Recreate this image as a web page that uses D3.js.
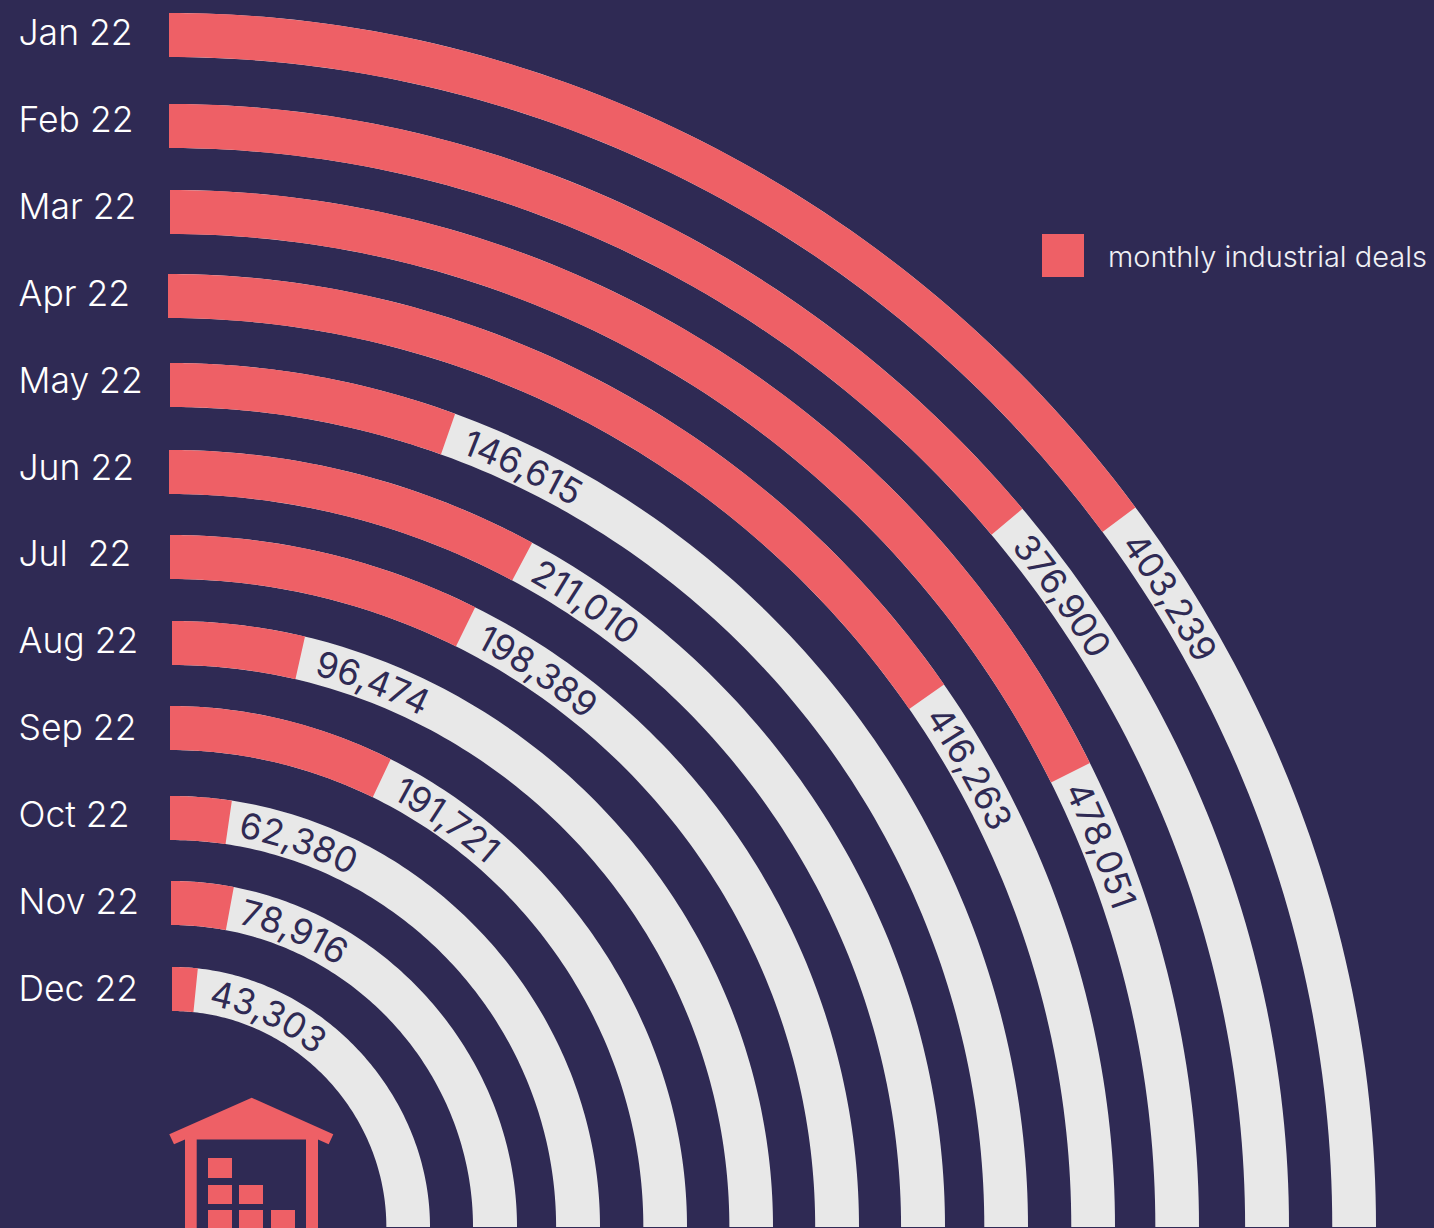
<!DOCTYPE html>
<html>
<head>
<meta charset="utf-8">
<script src="https://cdn.jsdelivr.net/npm/d3@7"></script>
<style>
  html, body { margin: 0; padding: 0; background: #2f2a54; overflow: hidden; }
  svg { display: block; }
  text { font-family: Inter, "Noto Sans", sans-serif; }
  .month { fill: #ffffff; font-size: 35.5px; font-weight: 300; white-space: pre; }
  .value { fill: #2f2a54; font-size: 35.5px; font-weight: 400; }
  .legend-label { fill: #f0f0f4; font-size: 29px; font-weight: 300; }
</style>
</head>
<body>
<script>
// Monthly industrial deals, one concentric ring per month
const months = ["Jan 22", "Feb 22", "Mar 22", "Apr 22", "May 22", "Jun 22",
                "Jul  22", "Aug 22", "Sep 22", "Oct 22", "Nov 22", "Dec 22"];
const deals = [403239, 376900, 478051, 416263, 146615, 211010,
               198389, 96474, 191721, 62380, 78916, 43303];
const legendLabel = "monthly industrial deals";

// Hand-set ring placement: the rings are not evenly spaced or perfectly round
const ringLefts    = [169, 169, 170, 168, 170, 169, 170, 172, 170, 170, 171, 172];
const ringTops     = [13, 104, 190, 274, 363, 450, 535, 621, 706, 796, 881, 967];
const ringRights   = [1376, 1289, 1199, 1115, 1028, 945, 859, 773, 687, 600, 517, 430];
const ringFlatness = [5, 6, 0.5, 2.4, 4, 3, 1, 3, 5, 2, 2, 2];
const labelGaps    = [19, 20, 12, 15, 18, 14, 17, 17, 17, 11, 11, 14];

const width = 1434, height = 1228;
const baseY = 1227, bandWidth = 44;
const colors = { bg: "#2f2a54", bar: "#ee6066", track: "#e8e8e8" };

const svg = d3.select("body").append("svg")
  .attr("width", width).attr("height", height)
  .style("background", colors.bg);

// A full quarter turn stands for 678,500 deals
const angle = d3.scaleLinear().domain([0, 678500]).range([0, Math.PI / 2]);
const left = d3.scaleOrdinal(months, ringLefts);
const top_ = d3.scaleOrdinal(months, ringTops);
const right = d3.scaleOrdinal(months, ringRights);
const flatness = d3.scaleOrdinal(months, ringFlatness);
const labelGap = d3.scaleOrdinal(months, labelGaps);
const labelY = d3.scalePoint(months, [32, 988]);

const rows = months.map((m, i) => ({ month: m, value: deals[i], index: i }));
const outer = d => baseY - top_(d.month);

// Edges sag slightly toward the ring's centre around the diagonal
const sag = a => Math.sin(2 * a) ** 2;
const sweep = end => d3.range(0, 121).map(i => end * i / 120);

const bandPath = (d, end) => d3.areaRadial()
  .angle(a => a)
  .outerRadius(a => outer(d) - flatness(d.month) * sag(a))
  .innerRadius(a => outer(d) - bandWidth - 0.4 * flatness(d.month) * sag(a))(sweep(end));

const rings = svg.selectAll("g.ring").data(rows).join("g")
  .attr("class", "ring")
  .attr("transform", d =>
    `translate(${left(d.month)},${baseY}) scale(${(right(d.month) - left(d.month)) / outer(d)},1)`);

rings.append("path").attr("fill", colors.track).attr("d", d => bandPath(d, Math.PI / 2));
rings.append("path").attr("fill", colors.bar).attr("d", d => bandPath(d, angle(d.value)));

// Baseline each value label follows, running clockwise from the ring's start
const defs = svg.append("defs");
const baseline = d => outer(d) - 35;
defs.selectAll("path").data(rows).join("path")
  .attr("id", d => `label-path-${d.index}`)
  .attr("d", d => d3.lineRadial()
    .angle(a => a)
    .radius(a => baseline(d) - 0.7 * flatness(d.month) * sag(a))(sweep(Math.PI / 2)));
rings.append("text")
  .attr("class", "value")
  .append("textPath")
  .attr("href", d => `#label-path-${d.index}`)
  .attr("startOffset", d => baseline(d) * angle(d.value) + labelGap(d.month))
  .text(d => d3.format(",")(d.value));

// Month names down the left edge
svg.selectAll("text.month").data(rows).join("text")
  .attr("class", "month")
  .attr("x", 18.5)
  .attr("y", d => labelY(d.month) + 13)
  .text(d => d.month);

// Legend
svg.append("rect").attr("x", 1042).attr("y", 234).attr("width", 42).attr("height", 43).attr("fill", colors.bar);
svg.append("text").attr("class", "legend-label").attr("x", 1108).attr("y", 267).text(legendLabel);

// Warehouse pictogram at the centre of the rings
const icon = svg.append("g").attr("fill", colors.bar);
icon.append("path").attr("d",
  "M251.7,1097.7 L333.3,1134.3 L328.7,1144.3 L318,1139.5 L318,1228 L306,1228 L306,1139.5 L196.7,1139.5 L196.7,1228 L185,1228 L185,1139.5 L174,1144.3 L169.3,1134.3 Z");
const crates = [[208, 1158, 20], [208, 1185, 19], [239, 1185, 19], [208, 1210, 18], [239, 1210, 18], [271, 1210, 18]];
icon.selectAll("rect").data(crates).join("rect")
  .attr("x", d => d[0]).attr("y", d => d[1]).attr("width", 24).attr("height", d => d[2]);
</script>
</body>
</html>
